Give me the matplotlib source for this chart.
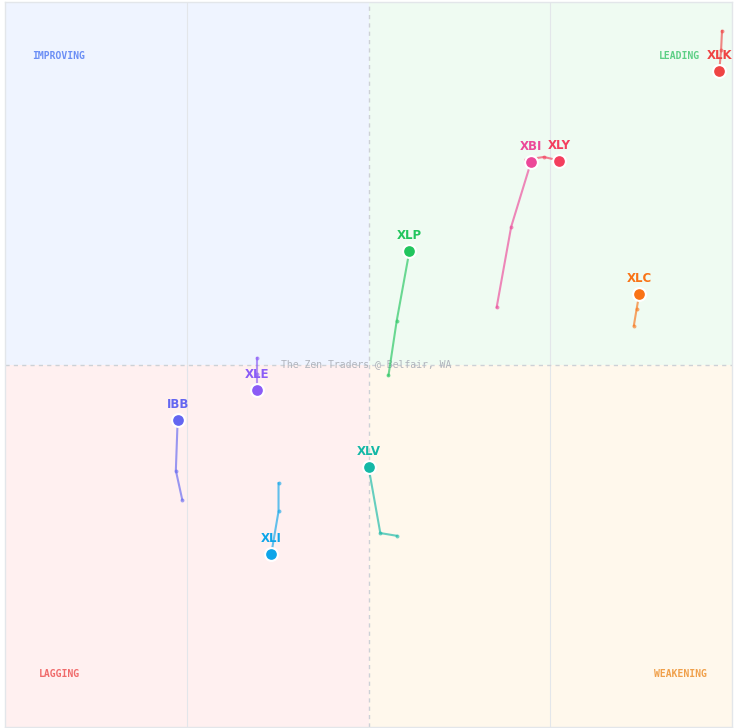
import matplotlib.pyplot as plt

# RS-ratio (x) and RS-momentum (y), tail -> head
tickers = ["XLK", "XLY", "XBI", "XLP", "XLC", "XLE", "IBB", "XLI", "XLV"]
colors = ["#ef4444", "#f43f5e", "#ec4899", "#22c55e", "#f97316",
          "#8b5cf6", "#6366f1", "#0ea5e9", "#14b8a6"]
ratio = [
    [103.89, 103.88, 103.86],
    [101.73, 101.93, 102.10],
    [101.41, 101.57, 101.79],
    [100.22, 100.31, 100.45],
    [102.92, 102.95, 102.98],
    [98.77, 98.77, 98.77],
    [97.95, 97.88, 97.90],
    [99.01, 99.01, 98.93],
    [100.31, 100.13, 100.00],
]
momentum = [
    [103.68, 103.47, 103.24],
    [102.26, 102.29, 102.25],
    [100.63, 101.52, 102.24],
    [99.88, 100.48, 101.25],
    [100.43, 100.61, 100.78],
    [100.07, 99.89, 99.72],
    [98.51, 98.83, 99.39],
    [98.69, 98.38, 97.91],
    [98.11, 98.14, 98.87],
]

fig = plt.figure(figsize=(7.34, 7.28), dpi=100)
ax = fig.add_axes([5 / 734, 1 / 728, 727 / 734, 725 / 728])
xmin, xmax, ymin, ymax = 96, 104, 96, 104
ax.set_xlim(xmin, xmax)
ax.set_ylim(ymin, ymax)

# quadrant backgrounds
ax.axvspan(xmin, 100, ymin=0.5, ymax=1, color="#eff4ff", lw=0, zorder=0)
ax.axvspan(100, xmax, ymin=0.5, ymax=1, color="#effbf2", lw=0, zorder=0)
ax.axvspan(xmin, 100, ymin=0, ymax=0.5, color="#fff0f0", lw=0, zorder=0)
ax.axvspan(100, xmax, ymin=0, ymax=0.5, color="#fff8ec", lw=0, zorder=0)

for gx in [98, 102]:
    ax.axvline(gx, color="#e3e6ea", lw=0.8, zorder=1)
ax.axvline(100, color="#cdd1d6", lw=1, ls=(0, (3, 3)), zorder=1)
ax.axhline(100, color="#cdd1d6", lw=1, ls=(0, (3, 3)), zorder=1)

mono = "DejaVu Sans Mono"
ax.text(96.3, 103.4, "IMPROVING", color="#6b8ef5", fontsize=7, family=mono,
        fontweight="bold", va="center", ha="left")
ax.text(103.65, 103.4, "LEADING", color="#5ccf85", fontsize=7, family=mono,
        fontweight="bold", va="center", ha="right")
ax.text(96.37, 96.59, "LAGGING", color="#f06b6b", fontsize=7, family=mono,
        fontweight="bold", va="center", ha="left")
ax.text(103.72, 96.59, "WEAKENING", color="#f0a04a", fontsize=7, family=mono,
        fontweight="bold", va="center", ha="right")
ax.text(99.04, 100.0, "The Zen Traders @ Belfair, WA", color="#b0b4bc",
        fontsize=7, family=mono, va="center", ha="left", zorder=2)

for name, c, xs, ys in zip(tickers, colors, ratio, momentum):
    ax.plot(xs, ys, color=c, lw=1.5, alpha=0.65, zorder=3)
    ax.scatter(xs[:-1], ys[:-1], s=8, color=c, alpha=0.6, lw=0, zorder=3)
    ax.scatter(xs[-1], ys[-1], s=85, color=c, edgecolor="white", lw=1.5, zorder=4)
    ax.annotate(name, (xs[-1], ys[-1]), xytext=(0, 11), textcoords="offset points",
                ha="center", va="center", color=c, fontsize=8.5, fontweight="bold",
                annotation_clip=False, clip_on=True, zorder=5)

ax.set_xticks([])
ax.set_yticks([])
for s in ax.spines.values():
    s.set_color("#e3e6ea")
    s.set_linewidth(1)

fig.savefig("out.png", dpi=100)
